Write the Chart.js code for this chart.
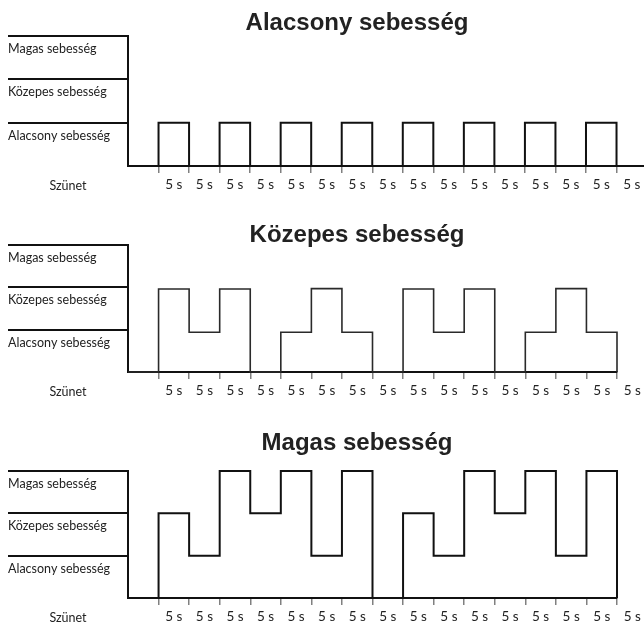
<!DOCTYPE html>
<html>
<head>
<meta charset="utf-8">
<script src="https://cdn.jsdelivr.net/npm/chart.js@4"></script>
<style>
html, body { margin: 0; padding: 0; background: #ffffff; }
#wrap { position: relative; width: 644px; height: 624px; }
canvas { position: absolute; left: 0; }
</style>
</head>
<body>
<div id="wrap">
  <canvas id="c1" width="644" height="206" style="top:0px"></canvas>
  <canvas id="c2" width="644" height="206" style="top:206px"></canvas>
  <canvas id="c3" width="644" height="212" style="top:412px"></canvas>
</div>
<script>
// ---- data ----
const titles = ['Alacsony sebesség', 'Közepes sebesség', 'Magas sebesség'];
const levelLabels = ['', 'Alacsony sebesség', 'Közepes sebesség', 'Magas sebesség'];
const pauseLabel = 'Szünet';
const slotStarts = [0, 1, 2, 3, 4, 5, 6, 7, 8, 9, 10, 11, 12, 13, 14, 15, 16];
const timeTicks = [1, 2, 3, 4, 5, 6, 7, 8, 9, 10, 11, 12, 13, 14, 15, 16];
const timeTickLabels = ['5 s', '5 s', '5 s', '5 s', '5 s', '5 s', '5 s', '5 s',
                        '5 s', '5 s', '5 s', '5 s', '5 s', '5 s', '5 s', '5 s'];
const lowSpeed  = [0, 1, 0, 1, 0, 1, 0, 1, 0, 1, 0, 1, 0, 1, 0, 1, 0];
const midSpeed  = [0, 1.96, 0.94, 1.96, 0, 0.94, 1.97, 0.94, 0, 1.96, 0.94, 1.96, 0, 0.94, 1.97, 0.94, 0];
const highSpeed = [0, 2, 1, 3, 2, 3, 1, 3, 0, 2, 1, 3, 2, 3, 1, 3, 0];

// ---- drawing ----
const FONT_LABEL = { family: 'Lato, "Open Sans", sans-serif', size: 12.5 };
const FONT_TIME = { family: 'Lato, "Open Sans", sans-serif', size: 13.5 };

const panelText = {
  id: 'panelText',
  afterDraw(chart, args, opts) {
    const ctx = chart.ctx;
    ctx.save();
    ctx.fillStyle = '#222222';
    ctx.font = 'bold 24px "Liberation Sans", Arial, sans-serif';
    ctx.textAlign = 'center';
    ctx.textBaseline = 'alphabetic';
    ctx.fillText(opts.title, opts.titleX, opts.titleY);
    ctx.font = '12.5px Lato, "Open Sans", sans-serif';
    ctx.textBaseline = 'middle';
    ctx.fillText(opts.pause, opts.pauseX, chart.chartArea.bottom + opts.pauseDy);
    ctx.restore();
  }
};

const panels = [
  { id: 'c1', title: titles[0], values: lowSpeed,  xMax: 16.9, padTop: 36, padBottom: 14, padRight: 0,  titleY: 30,   lw: 2,   color: '#111111' },
  { id: 'c2', title: titles[1], values: midSpeed,  xMax: 16,   padTop: 39, padBottom: 14, padRight: 27, titleY: 35.5, lw: 1.6, color: '#2a2a2a' },
  { id: 'c3', title: titles[2], values: highSpeed, xMax: 16,   padTop: 59, padBottom: 0,  padRight: 27, titleY: 37.5, lw: 2,   color: '#111111' }
];

panels.forEach(p => {
  new Chart(document.getElementById(p.id), {
    type: 'line',
    data: {
      datasets: [{
        data: slotStarts.map((x, i) => ({ x: x, y: p.values[i] })),
        stepped: 'before',
        borderColor: p.color,
        borderWidth: p.lw,
        pointRadius: 0,
        fill: false,
        clip: false
      }]
    },
    options: {
      responsive: false,
      animation: false,
      events: [],
      layout: { padding: { left: 8, right: p.padRight, top: p.padTop, bottom: p.padBottom } },
      plugins: {
        legend: { display: false },
        tooltip: { enabled: false },
        title: { display: false },
        panelText: { title: p.title, titleX: 357, titleY: p.titleY, pause: pauseLabel, pauseX: 68, pauseDy: 20 }
      },
      scales: {
        x: {
          type: 'linear',
          min: 0,
          max: p.xMax,
          afterBuildTicks: axis => { axis.ticks = timeTicks.map(v => ({ value: v })); },
          afterFit: axis => { axis.height = 26; },
          grid: { drawOnChartArea: false, drawTicks: true, tickLength: 7, color: '#808080', lineWidth: 1.5 },
          border: { display: true, color: '#111111', width: 2 },
          ticks: {
            autoSkip: false, maxRotation: 0, minRotation: 0,
            labelOffset: 15.3, padding: 4,
            font: FONT_TIME, color: '#222222',
            callback: (v, i) => timeTickLabels[i]
          }
        },
        y: {
          type: 'linear',
          min: 0,
          max: 3,
          afterBuildTicks: axis => { axis.ticks = [0, 1, 2, 3].map(v => ({ value: v })); },
          afterFit: axis => { axis.width = 120; },
          grid: {
            drawOnChartArea: false, drawTicks: true, tickLength: 120, lineWidth: 2,
            color: ctx => (ctx.tick && ctx.tick.value === 0) ? 'rgba(0,0,0,0)' : '#111111'
          },
          border: { display: true, color: '#111111', width: 2 },
          ticks: {
            crossAlign: 'far', labelOffset: 13, padding: 0,
            font: FONT_LABEL, color: '#222222',
            callback: v => levelLabels[v]
          }
        }
      }
    },
    plugins: [panelText]
  });
});
</script>
</body>
</html>
